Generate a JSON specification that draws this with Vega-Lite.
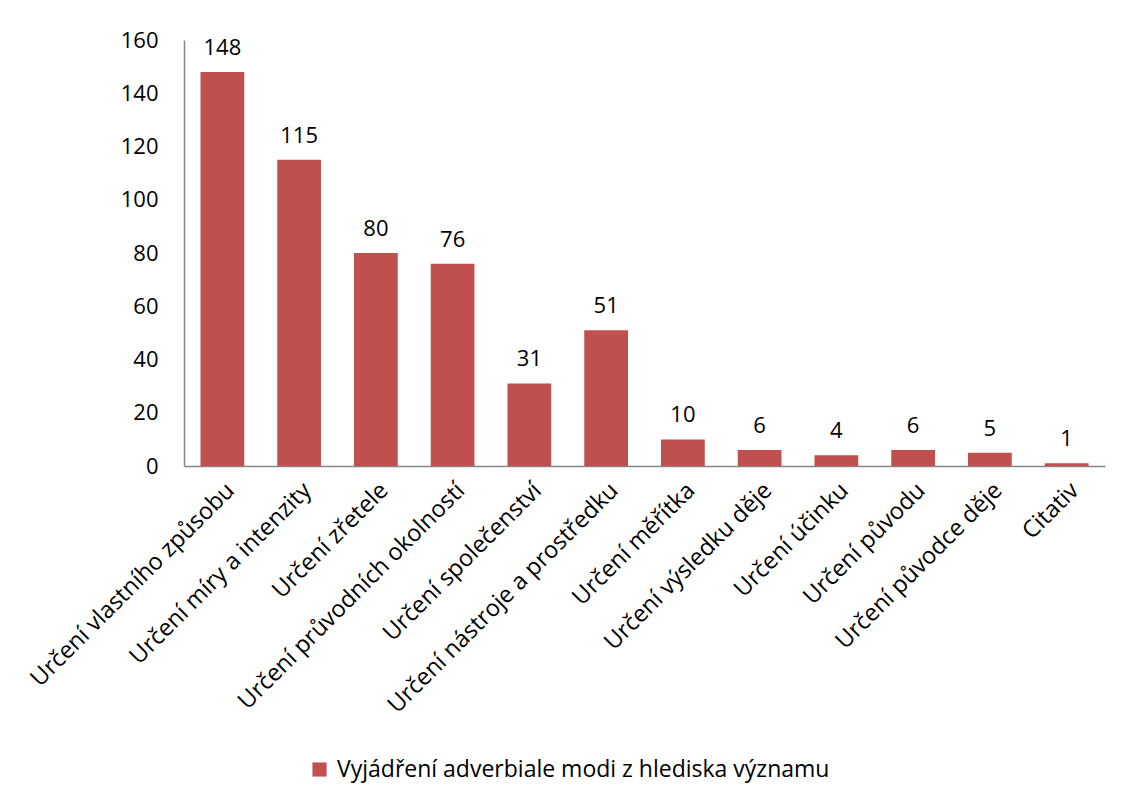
{
  "$schema": "https://vega.github.io/schema/vega-lite/v6.json",
  "autosize": "none",
  "width": 921,
  "height": 426,
  "padding": {"left": 184, "top": 40, "right": 19, "bottom": 339},
  "background": "white",
  "config": {
    "view": {"stroke": null},
    "font": "Open Sans",
    "axis": {"grid": false, "ticks": false, "domainColor": "#868686", "domainWidth": 1.5, "labelColor": "#000000", "labelFont": "Open Sans", "labelFontSize": 22, "title": null}
  },
  "data": {
    "values": [
      {"kategorie": "Určení vlastního způsobu", "pocet": 148, "serie": "Vyjádření adverbiale modi z hlediska významu"},
      {"kategorie": "Určení míry a intenzity", "pocet": 115, "serie": "Vyjádření adverbiale modi z hlediska významu"},
      {"kategorie": "Určení zřetele", "pocet": 80, "serie": "Vyjádření adverbiale modi z hlediska významu"},
      {"kategorie": "Určení průvodních okolností", "pocet": 76, "serie": "Vyjádření adverbiale modi z hlediska významu"},
      {"kategorie": "Určení společenství", "pocet": 31, "serie": "Vyjádření adverbiale modi z hlediska významu"},
      {"kategorie": "Určení nástroje a prostředku", "pocet": 51, "serie": "Vyjádření adverbiale modi z hlediska významu"},
      {"kategorie": "Určení měřítka", "pocet": 10, "serie": "Vyjádření adverbiale modi z hlediska významu"},
      {"kategorie": "Určení výsledku děje", "pocet": 6, "serie": "Vyjádření adverbiale modi z hlediska významu"},
      {"kategorie": "Určení účinku", "pocet": 4, "serie": "Vyjádření adverbiale modi z hlediska významu"},
      {"kategorie": "Určení původu", "pocet": 6, "serie": "Vyjádření adverbiale modi z hlediska významu"},
      {"kategorie": "Určení původce děje", "pocet": 5, "serie": "Vyjádření adverbiale modi z hlediska významu"},
      {"kategorie": "Citativ", "pocet": 1, "serie": "Vyjádření adverbiale modi z hlediska významu"}
    ]
  },
  "encoding": {
    "x": {
      "field": "kategorie", "type": "nominal", "sort": null,
      "scale": {"paddingInner": 0.43, "paddingOuter": 0.215},
      "axis": {"labelAngle": -45, "labelPadding": 12, "labelLimit": 400, "labelFontSize": 23.5}
    },
    "y": {
      "field": "pocet", "type": "quantitative",
      "scale": {"domain": [0, 160], "nice": false},
      "axis": {"values": [0, 20, 40, 60, 80, 100, 120, 140, 160], "labelPadding": 26}
    }
  },
  "layer": [
    {
      "mark": {"type": "bar", "color": "#C0504D"},
      "encoding": {
        "color": {
          "field": "serie", "type": "nominal",
          "scale": {"range": ["#C0504D"]},
          "legend": {"title": null, "orient": "none", "legendX": 124, "legendY": 718, "symbolType": "square", "symbolSize": 200, "labelFontSize": 23, "labelFont": "Open Sans", "labelColor": "#000000", "labelLimit": 800, "symbolStrokeWidth": 0, "labelOffset": 6}
        }
      }
    },
    {
      "mark": {"type": "text", "baseline": "bottom", "dy": -12, "fontSize": 22, "font": "Open Sans", "color": "#000000"},
      "encoding": {"text": {"field": "pocet", "type": "quantitative"}}
    }
  ]
}
